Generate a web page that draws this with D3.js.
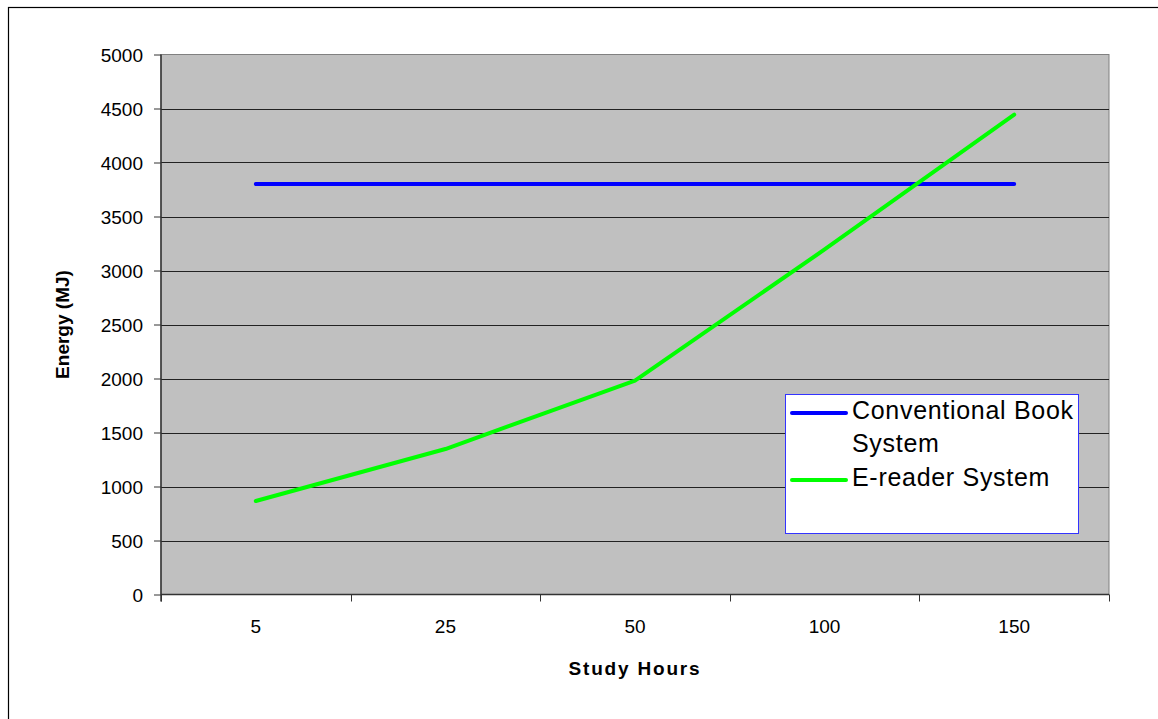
<!DOCTYPE html>
<html>
<head>
<meta charset="utf-8">
<script src="https://cdn.jsdelivr.net/npm/d3@7"></script>
<style>
  html, body { margin: 0; padding: 0; background: #fff; }
  svg { display: block; font-family: "Liberation Sans", Arial, sans-serif; }
</style>
</head>
<body>
<svg id="chart" width="1158" height="719"></svg>
<script>
const categories = ["5", "25", "50", "100", "150"];
const conventional = [3800, 3800, 3800, 3800, 3800];
const ereader = [866, 1347, 1980, 3195, 4443];
const yTicks = [0, 500, 1000, 1500, 2000, 2500, 3000, 3500, 4000, 4500, 5000];
const seriesNames = ["Conventional Book System", "E-reader System"];

(function () {
const svg = d3.select("#chart");
const pL = 161, pR = 1109, pT = 54.5, pB = 594.5;

// outer border (only left/top visible in frame)
svg.append("rect").attr("x", 8.5).attr("y", 7.5).attr("width", 1200).attr("height", 800)
  .attr("fill", "#fff").attr("stroke", "#000").attr("stroke-width", 1.2);

const x = d3.scaleBand().domain(categories).range([pL, pR]).paddingInner(0).paddingOuter(0);
const y = d3.scaleLinear().domain([0, 5000]).range([pB, pT]);

// plot area
svg.append("rect").attr("x", pL).attr("y", pT).attr("width", pR - pL).attr("height", pB - pT)
  .attr("fill", "#c0c0c0").attr("stroke", "#808080").attr("stroke-width", 1);

// gridlines
svg.append("g").selectAll("line").data(yTicks.filter(d => d > 0 && d < 5000)).join("line")
  .attr("x1", pL).attr("x2", pR)
  .attr("y1", d => Math.round(y(d)) + 0.5).attr("y2", d => Math.round(y(d)) + 0.5)
  .attr("stroke", "#222").attr("stroke-width", 1);

// y axis
const yAxis = svg.append("g").attr("transform", `translate(${pL},0)`)
  .call(d3.axisLeft(y).tickValues(yTicks).tickSize(7).tickPadding(11).tickFormat(d3.format("d")));
yAxis.select(".domain").attr("stroke", "#333").attr("stroke-width", 1.5).attr("d", `M0,${pT}V${pB + 7}`);
yAxis.selectAll(".tick line").attr("stroke", "#333");
yAxis.selectAll(".tick text").attr("font-size", 19).attr("fill", "#000")
  .attr("font-family", "Liberation Sans, Arial, sans-serif").attr("dy", "0.36em");

// x axis
const xAxis = svg.append("g").attr("transform", `translate(0,${pB})`);
xAxis.append("line").attr("x1", pL).attr("x2", pR).attr("y1", 0).attr("y2", 0)
  .attr("stroke", "#333").attr("stroke-width", 1.5);
const boundaries = categories.map(c => x(c)).concat([x(categories[categories.length - 1]) + x.bandwidth()]);
xAxis.selectAll("line.tk").data(boundaries).join("line").attr("class", "tk")
  .attr("x1", d => Math.round(d) + 0.5).attr("x2", d => Math.round(d) + 0.5)
  .attr("y1", 0).attr("y2", 7).attr("stroke", "#333").attr("stroke-width", 1);
xAxis.selectAll("text").data(categories).join("text")
  .attr("x", d => x(d) + x.bandwidth() / 2).attr("y", 38.5)
  .attr("text-anchor", "middle").attr("font-size", 19).attr("fill", "#000").text(d => d);

// axis titles
svg.append("text").attr("x", 635).attr("y", 675).attr("text-anchor", "middle")
  .attr("font-size", 19).attr("font-weight", "bold").attr("letter-spacing", "1.8px").text("Study Hours");
svg.append("text").attr("transform", `translate(69,${(pT + pB) / 2}) rotate(-90)`)
  .attr("text-anchor", "middle").attr("font-size", 19).attr("font-weight", "bold").text("Energy (MJ)");

// lines
const line = d3.line().x((d, i) => x(categories[i]) + x.bandwidth() / 2).y(d => y(d));
svg.append("path").datum(conventional).attr("d", line).attr("fill", "none")
  .attr("stroke", "#0000ff").attr("stroke-width", 4).attr("stroke-linecap", "round").attr("stroke-linejoin", "round");
svg.append("path").datum(ereader).attr("d", line).attr("fill", "none")
  .attr("stroke", "#00ff00").attr("stroke-width", 4).attr("stroke-linecap", "round").attr("stroke-linejoin", "round");

// legend
const lg = svg.append("g");
lg.append("rect").attr("x", 785.5).attr("y", 394.5).attr("width", 293).attr("height", 139)
  .attr("fill", "#fff").attr("stroke", "#3333ff").attr("stroke-width", 1);
const colors = ["#0000ff", "#00ff00"];
const lineY = [413, 480];
lg.selectAll("line").data(seriesNames).join("line")
  .attr("x1", 792).attr("x2", 846).attr("y1", (d, i) => lineY[i]).attr("y2", (d, i) => lineY[i])
  .attr("stroke", (d, i) => colors[i]).attr("stroke-width", 4).attr("stroke-linecap", "round");
const t1 = lg.append("text").attr("x", 852).attr("y", 419).attr("font-size", 25).attr("letter-spacing", "0.7px");
t1.append("tspan").attr("x", 852).attr("y", 419).text("Conventional Book");
t1.append("tspan").attr("x", 852).attr("y", 452).text("System");
lg.append("text").attr("x", 852).attr("y", 486).attr("font-size", 25).attr("letter-spacing", "0.7px").text(seriesNames[1]);
})();
</script>
</body>
</html>
